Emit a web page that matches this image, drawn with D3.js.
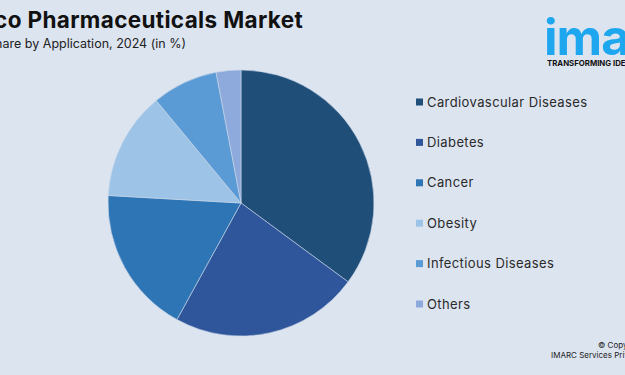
<!DOCTYPE html>
<html>
<head>
<meta charset="utf-8">
<script src="https://cdn.jsdelivr.net/npm/d3@7"></script>
<style>
  body { margin: 0; background: #dce4f0; }
  svg { display: block; font-family: Inter, "Noto Sans", sans-serif; }
</style>
</head>
<body>
<svg id="chart" width="625" height="375"></svg>
<script>
const categories = ["Cardiovascular Diseases", "Diabetes", "Cancer", "Obesity", "Infectious Diseases", "Others"];
const shares = [35.1, 22.9, 17.9, 13.1, 8.0, 3.0];
const colors = ["#1f4e79", "#2f559b", "#2e75b6", "#9dc3e6", "#5b9bd5", "#8eaadc"];

const svg = d3.select("#chart"),
    width = +svg.attr("width"),
    height = +svg.attr("height");

svg.append("rect").attr("width", width).attr("height", height).attr("fill", "#dce4f0");

// title (left side is cut off like the original)
svg.append("text")
    .attr("x", 303).attr("y", 28)
    .attr("text-anchor", "end")
    .attr("font-size", 22.5).attr("font-weight", "bold")
    .attr("letter-spacing", 0.35)
    .attr("fill", "#111")
    .text("Mexico Pharmaceuticals Market");

svg.append("text")
    .attr("x", 186).attr("y", 48)
    .attr("text-anchor", "end")
    .attr("font-size", 12.5)
    .attr("fill", "#222")
    .text("Market Share by Application, 2024 (in %)");

// pie
const color = d3.scaleOrdinal().domain(categories).range(colors);
const pie = d3.pie().sort(null).value(d => d.value);
const arc = d3.arc().innerRadius(0).outerRadius(133);
const data = categories.map((c, i) => ({ name: c, value: shares[i] }));

const g = svg.append("g").attr("transform", "translate(241,203)");
g.selectAll("path")
  .data(pie(data))
  .enter().append("path")
    .attr("d", arc)
    .attr("fill", d => color(d.data.name))
    .attr("stroke", "#c9d6e8")
    .attr("stroke-width", 0.6);

// legend
const ly = d3.scalePoint().domain(categories).range([102, 304]);
const legend = svg.append("g").selectAll("g")
  .data(categories)
  .enter().append("g")
    .attr("transform", d => "translate(416," + ly(d) + ")");
legend.append("rect")
    .attr("x", 0).attr("y", -3.5)
    .attr("width", 7).attr("height", 7)
    .attr("fill", d => color(d));
legend.append("text")
    .attr("x", 11).attr("y", 4.5)
    .attr("font-size", 13)
    .attr("letter-spacing", 0.4)
    .attr("fill", "#2a2a2a")
    .text(d => d);

// logo
svg.append("text")
    .attr("x", 544).attr("y", 55)
    .attr("font-size", 50).attr("font-weight", "bold")
    .attr("fill", "#1ea7ef")
    .attr("letter-spacing", -1)
    .text("imarc");
svg.append("text")
    .attr("x", 547).attr("y", 66)
    .attr("font-size", 7.8).attr("font-weight", "bold")
    .attr("fill", "#111")
    .text("TRANSFORMING IDEAS INTO IMPACT");

// footer
svg.append("text")
    .attr("x", 598).attr("y", 348)
    .attr("font-size", 8).attr("fill", "#222")
    .text("© Copyright");
svg.append("text")
    .attr("x", 551).attr("y", 358)
    .attr("font-size", 8).attr("fill", "#222")
    .text("IMARC Services Private Limited");
</script>
</body>
</html>
